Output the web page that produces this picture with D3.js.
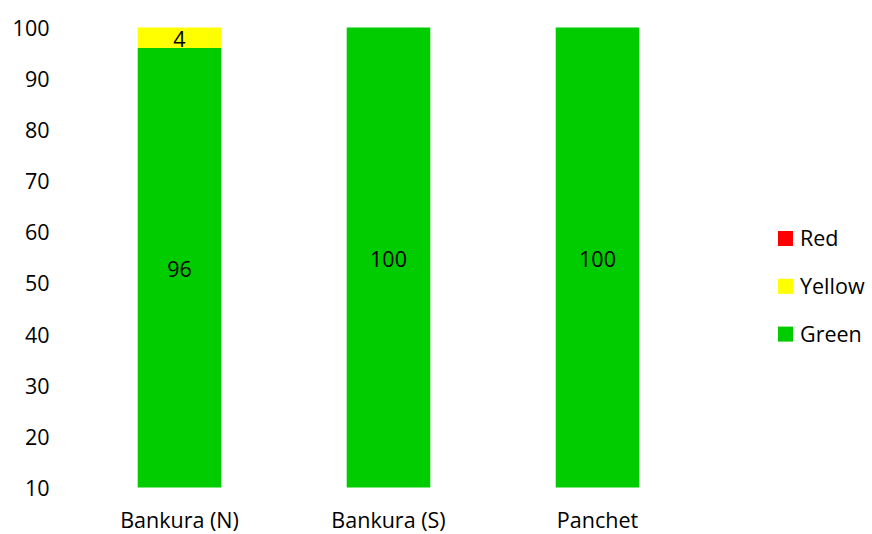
<!DOCTYPE html>
<html><head><meta charset="utf-8">
<script src="https://cdn.jsdelivr.net/npm/d3@7"></script>
<style>body{margin:0;background:#fff}svg{display:block}text{font-family:"Open Sans",sans-serif}</style>
</head><body>
<svg id="c" width="872" height="534"></svg>
<script>
const categories = ["Bankura (N)", "Bankura (S)", "Panchet"];
const seriesNames = ["Green", "Yellow", "Red"];
const green = [96, 100, 100];
const yellow = [4, 0, 0];
const red = [0, 0, 0];
const yTicks = [10, 20, 30, 40, 50, 60, 70, 80, 90, 100];
const colors = {Green: "#00CC00", Yellow: "#FFFF00", Red: "#FF0000"};

const svg = d3.select("#c");
const rows = categories.map((c, i) => ({cat: c, Green: green[i], Yellow: yellow[i], Red: red[i]}));
const stack = d3.stack().keys(seriesNames)(rows);

const x = d3.scaleBand().domain(categories).range([75, 702]).paddingInner(0.6).paddingOuter(0.3);
const y = d3.scaleLinear().domain([10, 100]).range([487.5, 27.5]);
const fs = 21.5;

// y axis labels
const yAxis = d3.axisLeft(y).tickValues(yTicks).tickSize(0).tickPadding(0);
const ga = svg.append("g").attr("transform", "translate(49.5,1)").call(yAxis);
ga.select(".domain").remove();
ga.selectAll("text").attr("font-size", fs).attr("fill", "#000").attr("font-family", "'Open Sans',sans-serif");

// x axis labels
const xAxis = d3.axisBottom(x).tickSize(0).tickPadding(0);
const gx = svg.append("g").attr("transform", "translate(0,513)").call(xAxis);
gx.select(".domain").remove();
gx.selectAll("text").attr("font-size", fs).attr("fill", "#000").attr("font-family", "'Open Sans',sans-serif");

stack.forEach(s => {
  const g = svg.append("g");
  s.forEach((d, i) => {
    const lo = Math.max(d[0], 10), hi = d[1];
    if (hi - d[0] <= 0) return;
    g.append("rect")
      .attr("x", x(categories[i])).attr("width", x.bandwidth())
      .attr("y", y(hi)).attr("height", y(lo) - y(hi))
      .attr("fill", colors[s.key]);
    g.append("text")
      .attr("x", x(categories[i]) + x.bandwidth() / 2)
      .attr("y", y((lo + hi) / 2) + 1.5)
      .attr("dy", "0.35em").attr("text-anchor", "middle")
      .attr("font-size", fs).attr("fill", "#000")
      .text(hi - d[0]);
  });
});

// legend
const legendOrder = ["Red", "Yellow", "Green"];
const lg = svg.append("g");
legendOrder.forEach((k, i) => {
  const cy = 238.5 + i * 47.8;
  lg.append("rect").attr("x", 778).attr("y", cy - 7.5).attr("width", 15).attr("height", 15).attr("fill", colors[k]);
  lg.append("text").attr("x", 800).attr("y", cy).attr("dy", "0.35em").attr("font-size", fs).attr("fill", "#000").text(k);
});
</script>
</body></html>
